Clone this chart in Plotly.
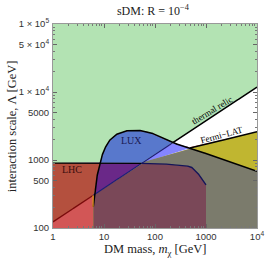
import numpy as np
import plotly.graph_objects as go

# ---------------- data ----------------
relic_m = [1, 10000]
relic_L = [123, 11800]

fermi_start = 6.1
fermi_m = [60, 490, 10000]
fermi_L = [935, 1500, 2600]

lux_m = [6.17, 6.66, 7.39, 8.35, 9.69, 12.1, 16.4, 25.8, 43.8, 79.8, 125, 225, 486, 10000]
lux_L = [206, 362, 601, 925, 1325, 1860, 2335, 2670, 2760, 2550, 2200, 1780, 1500, 683]

lhc_m = [1, 100, 300, 500, 650, 820, 1000]
lhc_L = [900, 890, 845, 800, 680, 540, 430]

x_tickvals = [1, 10, 100, 1000, 10000]
x_ticktext = ["1", "10", "100", "1000", "10<sup>4</sup>"]
y_tickvals = [100, 500, 1000, 5000, 10000, 50000, 100000]
y_ticktext = ["100", "500", "1000", "5000", "1 × 10<sup>4</sup>", "5 × 10<sup>4</sup>", "1 × 10<sup>5</sup>"]

# region colours: (state, in LUX, in LHC)
colors = {
    ("A", 1, 0): "#5878cc",
    ("A", 0, 1): "#b4503e",
    ("A", 1, 1): "#6a2888",
    ("W", 1, 0): "#8585ff",
    ("W", 0, 1): "#d25656",
    ("W", 1, 1): "#9a58b8",
    ("F", 1, 0): "#7b7b6c",
    ("F", 0, 1): "#c07040",
    ("F", 1, 1): "#7a4858",
}
GREEN = "#b3e3b3"
OLIVE = "#c0b630"

# ---------------- geometry helpers ----------------
B, T = 100.0, 1e5


def loginterp(m, xs, ys):
    return 10 ** np.interp(np.log10(m), np.log10(xs), np.log10(ys))


eps = 1e-5
g = np.unique(np.concatenate([
    np.logspace(0, 4, 1201),
    [fermi_start * (1 - eps), fermi_start * (1 + eps),
     lux_m[0] * (1 - eps), lux_m[0] * (1 + eps),
     lhc_m[-1] * (1 - eps), lhc_m[-1] * (1 + eps)],
]))

R = loginterp(g, relic_m, relic_L)
F = np.where(g >= fermi_start, np.minimum(R, loginterp(g, fermi_m, fermi_L)), B)
U = np.where(g >= lux_m[0], loginterp(g, lux_m, lux_L), B)
H = np.where(g <= lhc_m[-1], loginterp(g, lhc_m, lhc_L), B)

fig = go.Figure()


def add_poly(upper, lower, color, xs=g):
    upper = np.maximum(upper, lower)
    if np.all(upper - lower <= 0):
        return
    fig.add_trace(go.Scatter(
        x=np.concatenate([xs, xs[::-1]]),
        y=np.concatenate([upper, lower[::-1]]),
        fill="toself", fillcolor=color, mode="lines",
        line=dict(width=0), hoverinfo="skip", showlegend=False))


# base layers
add_poly(np.full_like(g, T), np.full_like(g, B), GREEN)
add_poly(R, np.full_like(g, B), "#ffffff")
add_poly(F, np.full_like(g, B), OLIVE)

states = {"A": (R, np.full_like(g, T)), "W": (F, R), "F": (np.full_like(g, B), F)}
for (st, lux, lhc), col in colors.items():
    lo, up = states[st]
    lowers = [lo]
    uppers = [up]
    if lux:
        uppers.append(U)
    else:
        lowers.append(U)
    if lhc:
        uppers.append(H)
    else:
        lowers.append(H)
    add_poly(np.minimum.reduce(uppers), np.maximum.reduce(lowers), col)


def add_line(mask, y, color, width=1.4):
    fig.add_trace(go.Scatter(x=g[mask], y=y[mask], mode="lines",
                             line=dict(color=color, width=width),
                             hoverinfo="skip", showlegend=False))


# crossings
inside = (g >= lux_m[0]) & (U > R)
m_cross_lux_relic = g[inside].max()
m_cross_lhc_relic = g[(g <= lhc_m[-1]) & (H > R)].max()
fermi_raw = loginterp(g, fermi_m, fermi_L)
m_cross_lux_fermi = g[(g >= lux_m[0]) & (U > fermi_raw)].max()

# thermal relic line (darkened under translucent layers)
add_line(g <= lux_m[0], R, "#7a0a0a", 1.3)
add_line((g >= lux_m[0]) & (g <= m_cross_lux_relic), R, "#1c1c78", 1.2)
add_line(g >= m_cross_lux_relic, R, "#000000", 1.5)

# LHC line
lhc_mask = g <= lhc_m[-1] * (1 - eps / 2)
add_line(lhc_mask & (g <= m_cross_lhc_relic), H, "#000000", 1.4)
add_line(lhc_mask & (g >= m_cross_lhc_relic), H, "#14145a", 1.4)

# LUX curve
add_line(g >= lux_m[0] * (1 + eps / 2), U, "#000000", 1.5)

# Fermi-LAT line
add_line(g >= m_cross_lux_fermi, fermi_raw, "#000000", 1.5)

# orange edge of Fermi region at its threshold
r6 = loginterp([fermi_start], relic_m, relic_L)[0]
fig.add_trace(go.Scatter(x=[fermi_start, fermi_start], y=[r6, lux_L[0]], mode="lines",
                         line=dict(color="#d8901c", width=1.3),
                         hoverinfo="skip", showlegend=False))

serif = "Liberation Serif"
sans = "Liberation Sans"

ann = [
    dict(x=np.log10(33.9), y=np.log10(1905), text="LUX", font=dict(family=serif, size=10, color="#1a1a55")),
    dict(x=np.log10(2.33), y=np.log10(713), text="LHC", font=dict(family=serif, size=10, color="#3a0e0e")),
    dict(x=np.log10(1340), y=np.log10(5430), text="thermal relic", textangle=-31,
         font=dict(family=serif, size=9, color="#000000")),
    dict(x=np.log10(2030), y=np.log10(2330), text="Fermi−LAT", textangle=-15,
         font=dict(family=serif, size=9, color="#000000")),
]
for a in ann:
    a.update(xref="x", yref="y", showarrow=False, xanchor="center", yanchor="middle")

ann += [
    dict(xref="paper", yref="paper", x=0.5, y=-0.108, text="DM mass, <i>m</i><sub>χ</sub> [GeV]",
         showarrow=False, xanchor="center", yanchor="middle",
         font=dict(family=serif, size=12.5, color="#222")),
    dict(xref="paper", yref="paper", x=-0.2, y=0.5, text="interaction scale, Λ [GeV]",
         textangle=-90, showarrow=False, xanchor="center", yanchor="middle",
         font=dict(family=serif, size=12.5, color="#222")),
]

minor_x = [k * 10 ** e for e in range(0, 4) for k in range(2, 10)]
minor_y = [k * 10 ** e for e in range(2, 5) for k in range(2, 10)]

axis_common = dict(type="log", showgrid=False, zeroline=False, ticks="inside", ticklen=4,
                   tickcolor="#666", tickwidth=0.8, showline=True, linecolor="#999",
                   linewidth=1, mirror="allticks", automargin=False,
                   tickfont=dict(family=sans, size=9.5, color="#333"))

fig.update_layout(
    width=266, height=264,
    margin=dict(l=53, r=9, t=24, b=36),
    paper_bgcolor="#ffffff", plot_bgcolor=GREEN,
    title=dict(text="sDM: R = 10<sup>−4</sup>", x=0.575, xanchor="center",
               y=1 - 11 / 264, yanchor="middle", yref="container",
               font=dict(family=serif, size=12, color="#222")),
    xaxis=dict(range=[0, 4], tickvals=x_tickvals, ticktext=x_ticktext,
               minor=dict(tickvals=minor_x, ticks="inside", ticklen=2, tickcolor="#777"),
               **axis_common),
    yaxis=dict(range=[2, 5], tickvals=y_tickvals, ticktext=y_ticktext, ticklabelstandoff=1,
               minor=dict(tickvals=minor_y, ticks="inside", ticklen=2, tickcolor="#777"),
               **axis_common),
    annotations=ann,
    showlegend=False,
)

fig.write_html("out.html", config={"displayModeBar": False},
               post_script="document.body.style.margin='0';document.body.style.overflow='hidden';")
